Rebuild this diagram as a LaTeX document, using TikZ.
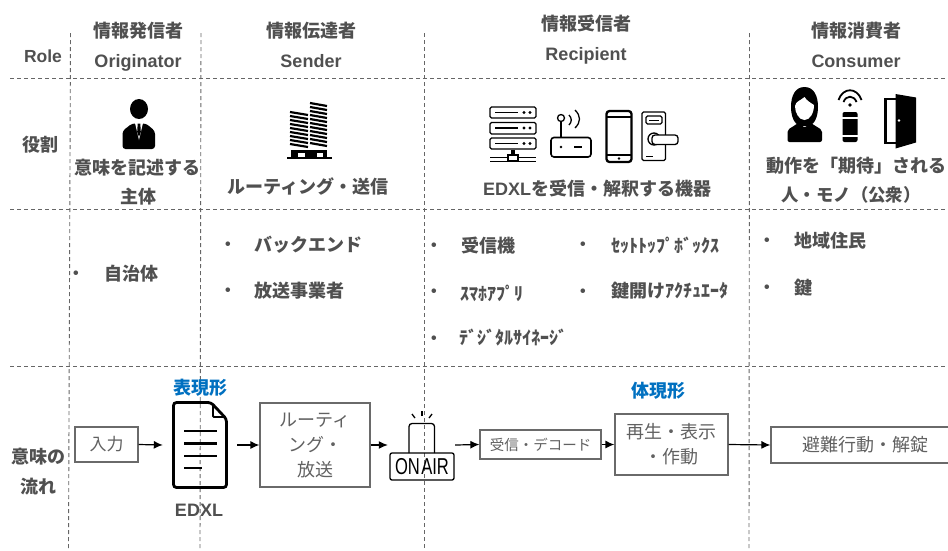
\documentclass[tikz,border=0pt]{standalone}
\usepackage{fontspec}
\usepackage{tikz}
\usetikzlibrary{arrows.meta}
\setmainfont{Liberation Sans}
\newfontfamily\cjk{Noto Sans CJK JP}
\definecolor{txtgray}{HTML}{505050}
\definecolor{boxgray}{HTML}{6A6A6A}
\definecolor{gridgray}{HTML}{666666}
\definecolor{formblue}{HTML}{0070C0}
\tikzset{
    gridline/.style={gridgray, line width=0.9pt, dash pattern=on 4pt off 3pt},
    latinhead/.style={font=\bfseries\fontsize{18}{20}\selectfont, text=txtgray, inner sep=0pt, text height=13pt, text depth=0pt},
    cjkhead/.style={font=\cjk\bfseries\fontsize{18}{20}\selectfont, text=txtgray, inner sep=0pt},
    dotmark/.style={font=\bfseries\fontsize{16}{20}\selectfont, text=txtgray, inner sep=0pt},
    formlabel/.style={font=\cjk\bfseries\fontsize{18}{20}\selectfont, text=formblue, inner sep=0pt},
    flowbox/.style={draw=boxgray, line width=1.2pt, inner sep=0pt, align=center, text=txtgray!90,
        font=\cjk\fontsize{18}{25}\selectfont},
    holder/.style={inner sep=0pt},
    flow/.style={-{Latex[length=9pt,width=8pt]}, black, line width=1.2pt},
    outline/.style={black, line width=1.3pt, rounded corners=1.5pt},
}
\begin{document}
\begin{tikzpicture}[x=1pt, y=-1pt]

    \clip (0,0) rectangle (948,550);

    \draw[gridline] (10,78)--(948,78);
    \draw[gridline] (10,209.5)--(948,209.5);
    \draw[gridline] (10,366)--(948,366);
    \draw[gridline] (70.5,33)--(68.5,550);
    \draw[gridline] (201,33)--(200,550);
    \draw[gridline] (424,33)--(424,550);
    \draw[gridline] (749.5,33)--(749,550);

    \node[latinhead, font=\bfseries\fontsize{17.5}{20}\selectfont] (role) at (43,56) {Role};
    \node[cjkhead] (originatorja) at (138,30.5) {情報発信者};
    \node[latinhead] (originator) at (138,61) {Originator};
    \node[cjkhead] (senderja) at (311,30.5) {情報伝達者};
    \node[latinhead] (sender) at (311,61) {Sender};
    \node[cjkhead] (recipientja) at (586,23.5) {情報受信者};
    \node[latinhead] (recipient) at (586,54) {Recipient};
    \node[cjkhead] (consumerja) at (856,30.5) {情報消費者};
    \node[latinhead] (consumer) at (856,61) {Consumer};

    \node[cjkhead] (duty) at (40,144.5) {役割};
    \node[cjkhead] (dutya) at (137,167.5) {意味を記述する};
    \node[cjkhead] (dutyb) at (138,196.5) {主体};
    \node[cjkhead] (dutyc) at (308,186) {ルーティング・送信};
    \node[cjkhead] (dutyd) at (597,189) {{\rmfamily EDXL}を受信・解釈する機器};
    \node[cjkhead] (dutye) at (856,165.5) {動作を「期待」される};
    \node[cjkhead, font=\cjk\bfseries\fontsize{17.4}{20}\selectfont] (dutyf) at (851,195) {人・モノ（公衆）};

    \node[dotmark] (dota) at (76,275) {•};
    \node[cjkhead] (itema) at (131,274) {自治体};
    \node[dotmark] (dotb) at (228,246) {•};
    \node[cjkhead] (itemb) at (308,245) {バックエンド};
    \node[dotmark] (dotc) at (228,292) {•};
    \node[cjkhead] (itemc) at (299,291) {放送事業者};
    \node[dotmark] (dotd) at (434,247) {•};
    \node[cjkhead] (itemd) at (488,246) {受信機};
    \node[dotmark] (dote) at (583,246) {•};
    \node[cjkhead] (iteme) at (665,245) {ｾｯﾄﾄｯﾌﾟﾎﾞｯｸｽ};
    \node[dotmark] (dotf) at (434,293) {•};
    \node[cjkhead] (itemf) at (492,293) {ｽﾏﾎｱﾌﾟﾘ};
    \node[dotmark] (dotg) at (583,293) {•};
    \node[cjkhead] (itemg) at (670,291) {鍵開けｱｸﾁｭｴｰﾀ};
    \node[dotmark] (doth) at (434,340) {•};
    \node[cjkhead] (itemh) at (513,338) {ﾃﾞｼﾞﾀﾙｻｲﾈｰｼﾞ};
    \node[dotmark] (doti) at (767,242) {•};
    \node[cjkhead] (itemi) at (830,241) {地域住民};
    \node[dotmark] (dotj) at (767,289) {•};
    \node[cjkhead] (itemj) at (803,288) {鍵};

    \node[cjkhead] (meaninga) at (38,456.5) {意味の};
    \node[cjkhead] (meaningb) at (38,486.5) {流れ};
    \node[formlabel] (expressed) at (200,387.5) {表現形};
    \node[formlabel] (embodied) at (658,390.5) {体現形};
    \node[latinhead] (edxl) at (199,510) {EDXL};

    \node[flowbox, minimum width=63pt, minimum height=35pt, font=\cjk\fontsize{17}{20}\selectfont] (input) at (106.5,444.5) {入力};
    \node[holder, minimum width=74pt, minimum height=86pt] (doc) at (200,445) {};
    \node[flowbox, minimum width=110pt, minimum height=84pt] (routing) at (315,445) {ルーティ\\ング・\\放送};
    \node[holder, minimum width=67pt, minimum height=57pt] (onair) at (421.5,445) {};
    \node[flowbox, minimum width=121pt, minimum height=29pt, font=\cjk\fontsize{14.5}{18}\selectfont] (receive) at (540.5,444.5) {受信・デコード};
    \node[flowbox, minimum width=113pt, minimum height=61pt] (play) at (671.5,444.5) {再生・表示\\・作動};
    \node[flowbox, minimum width=188pt, minimum height=36pt] (evacuate) at (865,445) {避難行動・解錠};

    \draw[flow] (input.east)--(doc.west);
    \draw[flow] (doc.east)--(routing.west);
    \draw[flow] (routing.east)--(onair.west);
    \draw[flow] (onair.east)--(receive.west);
    \draw[flow] (receive.east)--(play.west);
    \draw[flow] (play.east)--(evacuate.west);

    \fill[black] (139,109) ellipse (9pt and 10pt);
    \fill[black, rounded corners=3pt] (122.5,149)--(122.5,131)--(132,123.5)--(146,123.5)--(155,131)--(155,149)--cycle;
    \fill[white] (135,123)--(139,140)--(143,123)--cycle;
    \fill[black] (137.7,123.5)--(140.3,123.5)--(140.8,132)--(139,137)--(137.2,132)--cycle;

    \foreach \y in {112,116,120,124,128,132,136,140,144}
        \draw[black, line width=2.2pt] (290,\y)--(308,\y+3);
    \foreach \y in {103,107,111,115,119,123,127,131,135,139,143}
        \draw[black, line width=2.2pt] (310,\y)--(327,\y+3);
    \fill[black] (291,150) rectangle (327,157);
    \fill[white] (298,153) rectangle (305,157);
    \fill[white] (317,153) rectangle (323,157);
    \draw[black, line width=1.4pt] (287,158)--(332,158);

    \draw[outline] (490,107) rectangle (536,118);
    \draw[outline] (490,122.5) rectangle (536,134);
    \draw[outline] (490,138) rectangle (536,149);
    \draw[black, line width=1.1pt] (495,112.5)--(518,112.5);
    \draw[black, line width=1.1pt] (495,128)--(518,128);
    \draw[black, line width=1.1pt] (495,143.5)--(518,143.5);
    \fill[black] (524,112.5) circle (1.6pt);
    \fill[black] (530,112.5) circle (1.6pt);
    \fill[black] (524,128) circle (1.6pt);
    \fill[black] (530,128) circle (1.6pt);
    \fill[black] (524,143.5) circle (1.6pt);
    \fill[black] (530,143.5) circle (1.6pt);
    \draw[black, line width=1pt] (490,157)--(536,157);
    \draw[black, line width=1pt] (490,161)--(536,161);
    \draw[black, fill=white, line width=1.1pt] (508,161)--(508,155)--(512,155)--(512,151)--(514,151)--(514,155)--(518,155)--(518,161)--cycle;

    \draw[outline, line width=1.6pt, rounded corners=3pt] (551,137.5) rectangle (591,157);
    \draw[black, line width=1.3pt] (561,137.5)--(561,122);
    \draw[black, line width=1.3pt] (561,118) circle (3.5pt);
    \draw[black, line width=1.3pt] (569,115) .. controls (572,118) and (572,122) .. (569,125);
    \draw[black, line width=1.3pt] (575,110) .. controls (581,116) and (581,122) .. (575,128);
    \fill[black] (561,147) circle (1.3pt);
    \draw[black, line width=1.6pt] (574,147)--(582,147);

    \draw[outline, line width=2.3pt, rounded corners=3pt] (606.5,111) rectangle (631.5,162);
    \draw[black, line width=1.2pt] (606.5,117)--(631.5,117);
    \draw[black, line width=1.2pt] (606.5,155)--(631.5,155);
    \fill[black] (619,158.5) circle (1.4pt);

    \draw[outline, line width=1.3pt] (642,112) rectangle (665.5,160.5);
    \draw[outline, line width=1.3pt] (646,116) rectangle (662,124);
    \draw[black, line width=1pt] (649,120)--(659,120);
    \draw[black, line width=1.3pt, fill=white] (654,139) circle (6pt);
    \draw[outline, line width=1.3pt, fill=white, rounded corners=3pt] (652,135) rectangle (678,144.5);
    \draw[black, line width=1pt] (646,156)--(653,156);

    \fill[black] (804.5,87) .. controls (795,87) and (791,96) .. (791,107) .. controls (791,116) and (794,124) .. (800,126)
        -- (809,126) .. controls (815,124) and (818,116) .. (818,107) .. controls (818,96) and (814,87) .. (804.5,87) -- cycle;
    \fill[white] (804.5,97) .. controls (800,101) and (796,101) .. (795,106) .. controls (795,113) and (799,120) .. (804.5,120)
        .. controls (810,120) and (814,113) .. (814,105) .. controls (811,103) and (807,101) .. (804.5,97) -- cycle;
    \fill[black, rounded corners=2pt] (787.5,142)--(787.5,130)--(799,122.5)--(804.5,128)--(810,122.5)--(822,130)--(822,142)--cycle;

    \draw[black, line width=1.8pt] (838.5,100) .. controls (843,87) and (857,87) .. (861.5,100);
    \draw[black, line width=1.8pt] (843.5,102) .. controls (846,95) and (854,95) .. (856.5,102);
    \fill[black] (850,105) circle (1.8pt);
    \fill[black, rounded corners=2pt] (842.5,112) rectangle (857.5,142);
    \fill[white] (841,116.5) rectangle (859,118.5);
    \fill[white] (841,135) rectangle (859,137);

    \draw[black, line width=2.6pt] (896,99)--(885.5,99)--(885.5,143)--(896,143);
    \fill[black] (895.5,94)--(916,97.5)--(916,142.5)--(895.5,148.5)--cycle;
    \fill[white] (899,120.5) circle (1.3pt);

    \draw[black, line width=2.8pt, rounded corners=3pt] (173.5,402.5)--(173.5,487.5)--(226.5,487.5)--(226.5,419)--(211,402.5)--cycle;
    \draw[black, line width=1.8pt, rounded corners=1pt] (213,404)--(213,417)--(225.5,417);
    \draw[black, line width=2.3pt] (184,431)--(217,431);
    \draw[black, line width=2.3pt] (184,443.5)--(217,443.5);
    \draw[black, line width=2.3pt] (184,456)--(217,456);
    \draw[black, line width=2.3pt] (184,468)--(202,468);

    \draw[black, line width=1.3pt, rounded corners=3pt] (409,453)--(409,423.5)--(434.5,423.5)--(434.5,453);
    \draw[black, line width=1.3pt] (415,418)--(412,414);
    \draw[black, line width=1.3pt] (422,416)--(422,411);
    \draw[black, line width=1.3pt] (429,418)--(432,414);
    \node[draw=black, line width=1.3pt, rounded corners=2pt, minimum width=64pt, minimum height=27pt, inner sep=0pt,
        font=\fontsize{23}{24}\selectfont, text=black] (onairsign) at (422,466.5) {\scalebox{0.72}[1]{ON\hspace{2pt}AIR}};

\end{tikzpicture}
\end{document}
